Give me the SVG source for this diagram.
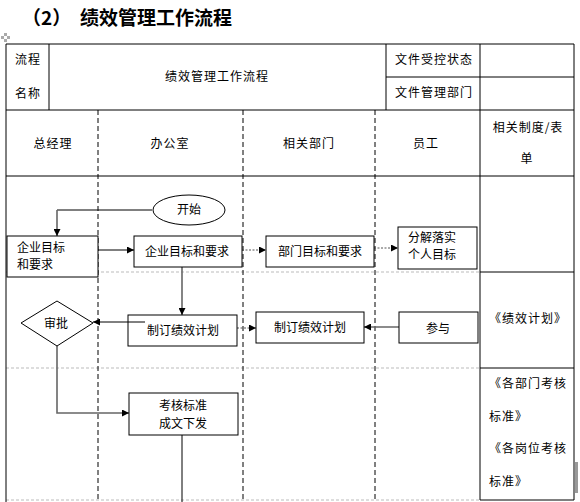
<svg xmlns="http://www.w3.org/2000/svg" width="580" height="502" viewBox="0 0 580 502">
<style>
text{font-family:"Noto Sans CJK SC","Liberation Sans",sans-serif;fill:#000;}
.t{font-size:12px;letter-spacing:1px;text-anchor:middle;}
.b{font-size:12px;text-anchor:middle;}
.l{font-size:12px;}
.solid{stroke:#000;stroke-width:1;fill:none;}
.lane{stroke:#000;stroke-width:1;stroke-dasharray:5,3;fill:none;}
.gray{stroke:#bbb;stroke-width:1;stroke-dasharray:3,2;fill:none;}
.box{fill:#fff;stroke:#000;stroke-width:1;}
.c{stroke:#000;stroke-width:1;fill:none;}
.cg{stroke:#666;stroke-width:1.6;fill:none;}
.cd{stroke:#555;stroke-width:1;stroke-dasharray:2,1.5;fill:none;}
</style>
<defs>
<marker id="ah" viewBox="0 0 10 10" refX="10" refY="5" markerWidth="9" markerHeight="7" markerUnits="userSpaceOnUse" orient="auto">
<path d="M0,0 L10,5 L0,10 z" fill="#000"/>
</marker>
</defs>
<rect width="580" height="502" fill="#fff"/>
<text x="22" y="25" style="font-size:19px;font-weight:bold">（2）</text>
<text x="80" y="25" style="font-size:19px;font-weight:bold">绩效管理工作流程</text>
<g id="handle" fill="#aaa"><rect x="4" y="33" width="3" height="3"/><rect x="1" y="36" width="3" height="3"/><rect x="7" y="36" width="3" height="3"/><rect x="4" y="39" width="3" height="3"/></g>
<rect x="575" y="462" width="3" height="31" fill="#999"/>
<g id="table">
<line class="gray" x1="6" y1="272" x2="480" y2="272"/>
<line class="gray" x1="6" y1="368" x2="480" y2="368"/>
<line class="gray" x1="6" y1="500" x2="480" y2="500"/>
<path class="solid" d="M6,44 H574 V500 M6,44 V502 M6,110 H574 M6,176 H574 M49,44 V110 M386,44 V110 M480,44 V500 M386,77 H574 M480,272 H574 M480,368 H574 M480,500 H574"/>
<line class="lane" x1="98" y1="110" x2="98" y2="502"/>
<line class="lane" x1="243" y1="110" x2="243" y2="502"/>
<line class="lane" x1="375" y1="110" x2="375" y2="502"/>
<text class="t" x="28" y="64">流程</text>
<text class="t" x="28" y="98">名称</text>
<text class="t" x="217" y="81">绩效管理工作流程</text>
<text class="t" x="434" y="64">文件受控状态</text>
<text class="t" x="434" y="97">文件管理部门</text>
<text class="t" x="53" y="148">总经理</text>
<text class="t" x="170" y="148">办公室</text>
<text class="t" x="309" y="148">相关部门</text>
<text class="t" x="426" y="148">员工</text>
<text class="t" x="528" y="132">相关制度/表</text>
<text class="t" x="527" y="163">单</text>
<text class="t" x="528" y="323">《绩效计划》</text>
<text class="t" x="528" y="388">《各部门考核</text>
<text x="489" y="421" style="font-size:12px;letter-spacing:1px">标准》</text>
<text class="t" x="528" y="453">《各岗位考核</text>
<text x="489" y="486" style="font-size:12px;letter-spacing:1px">标准》</text>
</g>
<g id="connectors">
<path class="c" d="M152,210 H57"/>
<path class="cg" d="M57,210 V236" marker-end="url(#ah)"/>
<path class="c" d="M98,250 H134" marker-end="url(#ah)"/>
<path class="cd" d="M242,250 H266" marker-end="url(#ah)"/>
<path class="cd" d="M374,248 H398" marker-end="url(#ah)"/>
<path class="cg" d="M182,267 V315" marker-end="url(#ah)"/>
<path class="c" d="M145,322 H93" marker-end="url(#ah)"/>
<path class="cd" d="M237,328 H256" marker-end="url(#ah)"/>
<path class="cg" d="M399,327 H364" marker-end="url(#ah)"/>
<path class="cg" d="M57,346 V413 H129" marker-end="url(#ah)"/>
<path class="c" d="M182,435 V502"/>
</g>
<g id="n-start"><ellipse cx="189" cy="210" rx="36" ry="15" class="box"/><text class="b" x="189" y="214">开始</text></g>
<g id="n-gm-goal"><rect x="7" y="236" width="91" height="41" class="box"/><text class="l" x="17" y="252">企业目标</text><text class="l" x="17" y="269">和要求</text></g>
<g id="n-office-goal"><rect x="134" y="236" width="108" height="31" class="box"/><text class="b" x="187" y="256">企业目标和要求</text></g>
<g id="n-dept-goal"><rect x="266" y="236" width="108" height="31" class="box"/><text class="b" x="320" y="256">部门目标和要求</text></g>
<g id="n-emp-goal"><rect x="398" y="227" width="79" height="42" class="box"/><text class="l" x="408" y="242">分解落实</text><text class="l" x="408" y="259">个人目标</text></g>
<g id="n-approve"><polygon points="21,323 57,301 93,323 57,346" class="box"/><text class="b" x="56" y="328">审批</text></g>
<g id="n-office-plan"><rect x="128" y="315" width="109" height="31" class="box" style="fill:none"/><text class="b" x="183" y="335">制订绩效计划</text></g>
<g id="n-dept-plan"><rect x="256" y="312" width="108" height="31" class="box"/><text class="b" x="310" y="332">制订绩效计划</text></g>
<g id="n-participate"><rect x="399" y="312" width="79" height="31" class="box"/><text class="b" x="438" y="333">参与</text></g>
<g id="n-standard"><rect x="129" y="393" width="109" height="42" class="box"/><text class="b" x="183" y="410">考核标准</text><text class="b" x="183" y="428">成文下发</text></g>
</svg>
